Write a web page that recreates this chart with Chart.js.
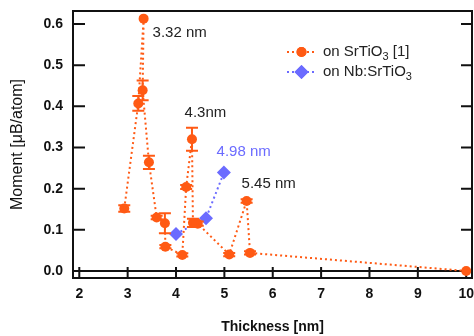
<!DOCTYPE html>
<html>
<head>
<meta charset="utf-8">
<script src="https://cdn.jsdelivr.net/npm/chart.js@4"></script>
<style>
  html, body { margin: 0; padding: 0; background: #fff; }
  #wrap { width: 474px; height: 336px; position: relative; }
</style>
</head>
<body>
<div id="wrap"><canvas id="chart"></canvas></div>
<script>
// films on SrTiO3 [1]
const srtX = [2.93, 3.22, 3.33, 3.31, 3.44, 3.6, 3.77, 3.78, 4.13, 4.21, 4.33, 4.35, 4.45, 5.1, 5.46, 5.53, 10];
const srtY = [0.152, 0.407, 0.613, 0.439, 0.264, 0.13, 0.116, 0.059, 0.039, 0.204, 0.32, 0.117, 0.115, 0.040, 0.170, 0.044, 0.0];
const srtErr = [0.008, 0.018, 0, 0.024, 0.016, 0.004, 0.024, 0.004, 0.004, 0.005, 0.028, 0.01, 0.005, 0.004, 0.004, 0.004, 0];
// films on Nb:SrTiO3
const nbX = [4.0, 4.62, 4.99];
const nbY = [0.090, 0.128, 0.239];

const xTicks = [2, 3, 4, 5, 6, 7, 8, 9, 10];
const yTicks = [0, 0.1, 0.2, 0.3, 0.4, 0.5, 0.6];

const notes = [
  { text: '3.32 nm', x: 3.515, y: 0.578, color: '#222' },
  { text: '4.3nm', x: 4.177, y: 0.385, color: '#222' },
  { text: '4.98 nm', x: 4.839, y: 0.289, color: '#6b6bff' },
  { text: '5.45 nm', x: 5.356, y: 0.212, color: '#222' },
];

const ORANGE = '#ff5a14';
const BLUE = '#6b6bff';
const FAMILY = "'Liberation Sans', Arial, sans-serif";

const frame = {
  id: 'frame',
  beforeDatasetsDraw(chart) {
    const { ctx, chartArea: a, scales: { x, y } } = chart;
    ctx.save();
    ctx.strokeStyle = '#111';
    ctx.lineWidth = 2;
    ctx.strokeRect(a.left, a.top, a.right - a.left, a.bottom - a.top);
    ctx.beginPath();
    const y0 = y.getPixelForValue(0);
    ctx.moveTo(a.left, y0);
    ctx.lineTo(a.right, y0);
    xTicks.forEach((v) => {
      const px = x.getPixelForValue(v);
      ctx.moveTo(px, a.bottom);
      ctx.lineTo(px, a.bottom - 11);
    });
    yTicks.forEach((v) => {
      const py = y.getPixelForValue(v);
      ctx.moveTo(a.left, py);
      ctx.lineTo(a.left + 12, py);
      ctx.moveTo(a.right, py);
      ctx.lineTo(a.right - 11, py);
    });
    ctx.stroke();
    ctx.restore();
  },
};

const errorBars = {
  id: 'errorBars',
  afterDatasetsDraw(chart) {
    const { ctx, scales: { x, y } } = chart;
    ctx.save();
    ctx.strokeStyle = ORANGE;
    ctx.lineWidth = 2;
    ctx.beginPath();
    srtErr.forEach((e, i) => {
      if (!e) return;
      const px = x.getPixelForValue(srtX[i]);
      const top = y.getPixelForValue(srtY[i] + e);
      const bot = y.getPixelForValue(srtY[i] - e);
      ctx.moveTo(px, top); ctx.lineTo(px, bot);
      ctx.moveTo(px - 6, top); ctx.lineTo(px + 6, top);
      ctx.moveTo(px - 6, bot); ctx.lineTo(px + 6, bot);
    });
    ctx.stroke();
    ctx.restore();
  },
};

function drawSubText(ctx, parts, x, y) {
  // parts: [text, isSub]
  parts.forEach(([t, sub]) => {
    ctx.font = sub ? `11px ${FAMILY}` : `15px ${FAMILY}`;
    ctx.fillText(t, x, sub ? y + 5 : y);
    x += ctx.measureText(t).width;
  });
}

const overlay = {
  id: 'overlay',
  afterDraw(chart) {
    const { ctx, scales: { x, y } } = chart;
    ctx.save();
    ctx.textBaseline = 'middle';
    ctx.textAlign = 'left';
    ctx.font = `15px ${FAMILY}`;
    notes.forEach((n) => {
      ctx.fillStyle = n.color;
      ctx.fillText(n.text, x.getPixelForValue(n.x), y.getPixelForValue(n.y));
    });

    // legend
    const rows = [
      { color: ORANGE, style: 'circle', r: 5, parts: [['on SrTiO', false], ['3', true], [' [1]', false]] },
      { color: BLUE, style: 'rectRot', r: 7, parts: [['on Nb:SrTiO', false], ['3', true]] },
    ];
    rows.forEach((row, i) => {
      const ly = 52 + i * 20;
      ctx.strokeStyle = row.color;
      ctx.lineWidth = 2;
      ctx.setLineDash([2, 3]);
      ctx.beginPath();
      ctx.moveTo(287, ly);
      ctx.lineTo(316, ly);
      ctx.stroke();
      ctx.setLineDash([]);
      ctx.fillStyle = row.color;
      Chart.helpers.drawPoint(ctx, { pointStyle: row.style, radius: row.r, borderWidth: 0 }, 301.5, ly);
      ctx.fill();
      ctx.fillStyle = '#222';
      drawSubText(ctx, row.parts, 323, ly);
    });
    ctx.restore();
  },
};

new Chart(document.getElementById('chart'), {
  type: 'scatter',
  data: {
    datasets: [
      {
        label: 'on SrTiO3 [1]',
        data: srtX.map((v, i) => ({ x: v, y: srtY[i] })),
        showLine: true,
        borderColor: ORANGE,
        backgroundColor: ORANGE,
        borderWidth: 2,
        borderDash: [2, 3],
        pointRadius: 5,
        pointBorderWidth: 0,
        pointStyle: 'circle',
        clip: false,
      },
      {
        label: 'on Nb:SrTiO3',
        data: nbX.map((v, i) => ({ x: v, y: nbY[i] })),
        showLine: true,
        borderColor: BLUE,
        backgroundColor: BLUE,
        borderWidth: 2,
        borderDash: [2, 3],
        pointRadius: 7,
        pointBorderWidth: 0,
        pointStyle: 'rectRot',
        clip: false,
      },
    ],
  },
  options: {
    responsive: true,
    maintainAspectRatio: false,
    animation: false,
    devicePixelRatio: 1,
    layout: { autoPadding: false, padding: { top: 11, right: 2, left: 0, bottom: 0 } },
    plugins: { legend: { display: false }, tooltip: { enabled: false } },
    scales: {
      x: {
        type: 'linear',
        min: 1.87,
        max: 10.12,
        afterBuildTicks: (s) => { s.ticks = xTicks.map((v) => ({ value: v })); },
        afterFit: (s) => { s.height = 58; s.paddingLeft = 0; s.paddingRight = 0; },
        grid: { display: false, drawTicks: false },
        border: { display: false },
        ticks: { padding: 8, color: '#111', font: { family: FAMILY, size: 14, weight: 'bold' } },
        title: {
          display: true, text: 'Thickness [nm]', color: '#111',
          font: { family: FAMILY, size: 14, weight: 'bold' },
          padding: { top: 0, bottom: 0 },
        },
      },
      y: {
        min: -0.017,
        max: 0.6316,
        afterBuildTicks: (s) => { s.ticks = yTicks.map((v) => ({ value: v })); },
        afterFit: (s) => { s.width = 73; s.paddingTop = 0; s.paddingBottom = 0; },
        grid: { display: false, drawTicks: false },
        border: { display: false },
        ticks: {
          padding: 10, color: '#111',
          font: { family: FAMILY, size: 14, weight: 'bold' },
          callback: (v) => v.toFixed(1),
        },
        title: {
          display: true, text: 'Moment [\u03bcB/atom]', color: '#111',
          font: { family: FAMILY, size: 16 },
          padding: { top: 8, bottom: 0 },
        },
      },
    },
  },
  plugins: [frame, errorBars, overlay],
});
</script>
</body>
</html>
